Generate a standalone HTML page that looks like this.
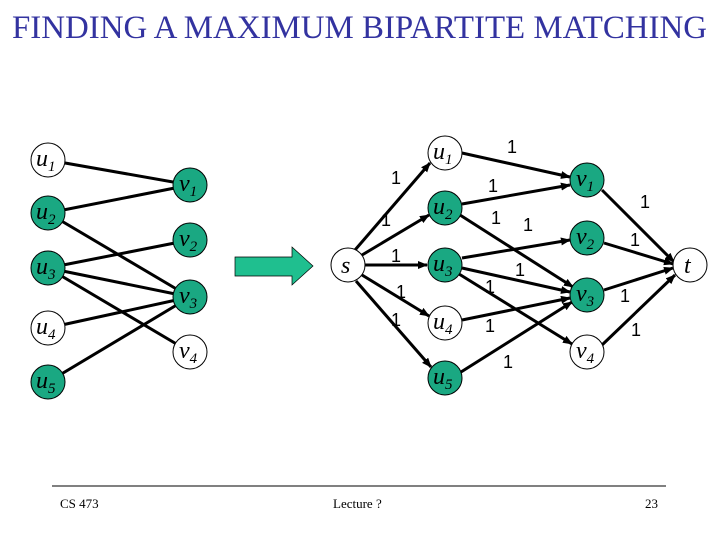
<!DOCTYPE html>
<html><head><meta charset="utf-8"><style>
html,body{margin:0;padding:0;background:#fff;}
svg{display:block;}
</style></head><body>
<svg width="720" height="540" viewBox="0 0 720 540" xmlns="http://www.w3.org/2000/svg" font-family="Liberation Serif, serif">
<defs>
<marker id="ah" markerWidth="10" markerHeight="8" refX="9" refY="4" orient="auto" markerUnits="userSpaceOnUse">
<path d="M0,0 L10,4 L0,8 z" fill="#000"/>
</marker>
</defs>
<text x="12" y="38" font-size="33" fill="#3333a0" textLength="695" lengthAdjust="spacingAndGlyphs">FINDING A MAXIMUM BIPARTITE MATCHING</text>

<!-- left graph edges -->
<g stroke="#000" stroke-width="3">
<line x1="48" y1="160" x2="190" y2="185"/>
<line x1="48" y1="213" x2="190" y2="185"/>
<line x1="48" y1="213" x2="190" y2="297"/>
<line x1="48" y1="268" x2="190" y2="240"/>
<line x1="48" y1="268" x2="190" y2="297"/>
<line x1="48" y1="268" x2="190" y2="352"/>
<line x1="48" y1="328" x2="190" y2="297"/>
<line x1="48" y1="382" x2="190" y2="297"/>
</g>
<g stroke="#000" stroke-width="1">
<circle cx="48" cy="160" r="17" fill="#fff"/>
<circle cx="48" cy="213" r="17" fill="#1aa882"/>
<circle cx="48" cy="268" r="17" fill="#1aa882"/>
<circle cx="48" cy="328" r="17" fill="#fff"/>
<circle cx="48" cy="382" r="17" fill="#1aa882"/>
<circle cx="190" cy="185" r="17" fill="#1aa882"/>
<circle cx="190" cy="240" r="17" fill="#1aa882"/>
<circle cx="190" cy="297" r="17" fill="#1aa882"/>
<circle cx="190" cy="352" r="17" fill="#fff"/>
</g>
<g font-style="italic" font-size="24" fill="#000">
<text x="36" y="166">u<tspan font-size="15" dy="5">1</tspan></text>
<text x="36" y="219">u<tspan font-size="15" dy="5">2</tspan></text>
<text x="36" y="274">u<tspan font-size="15" dy="5">3</tspan></text>
<text x="36" y="334">u<tspan font-size="15" dy="5">4</tspan></text>
<text x="36" y="388">u<tspan font-size="15" dy="5">5</tspan></text>
<text x="179" y="191">v<tspan font-size="15" dy="5">1</tspan></text>
<text x="179" y="246">v<tspan font-size="15" dy="5">2</tspan></text>
<text x="179" y="303">v<tspan font-size="15" dy="5">3</tspan></text>
<text x="179" y="358">v<tspan font-size="15" dy="5">4</tspan></text>
</g>

<!-- block arrow -->
<polygon points="235,257 292,257 292,247 313,266 292,285 292,276 235,276" fill="#1fbf8f" stroke="#000" stroke-width="0.7"/>

<!-- right graph edges -->
<g stroke="#000" stroke-width="3" marker-end="url(#ah)">
<line x1="355" y1="250" x2="430" y2="163"/>
<line x1="362" y1="255" x2="429" y2="215"/>
<line x1="365" y1="265" x2="427" y2="265"/>
<line x1="362" y1="275" x2="429" y2="316"/>
<line x1="356" y1="281" x2="431" y2="367"/>
<line x1="462" y1="153" x2="570" y2="177"/>
<line x1="462" y1="204" x2="570" y2="185"/>
<line x1="460" y1="215" x2="573" y2="287"/>
<line x1="462" y1="258" x2="570" y2="240"/>
<line x1="462" y1="268" x2="570" y2="292"/>
<line x1="459" y1="274" x2="572" y2="344"/>
<line x1="462" y1="320" x2="570" y2="298"/>
<line x1="461" y1="372" x2="572" y2="302"/>
<line x1="602" y1="190" x2="674" y2="262"/>
<line x1="604" y1="243" x2="673" y2="264"/>
<line x1="604" y1="290" x2="673" y2="268"/>
<line x1="602" y1="345" x2="675" y2="275"/>
</g>
<g stroke="#000" stroke-width="1">
<circle cx="348" cy="265" r="17" fill="#fff"/>
<circle cx="445" cy="153" r="17" fill="#fff"/>
<circle cx="445" cy="208" r="17" fill="#1aa882"/>
<circle cx="445" cy="265" r="17" fill="#1aa882"/>
<circle cx="445" cy="323" r="17" fill="#fff"/>
<circle cx="445" cy="378" r="17" fill="#1aa882"/>
<circle cx="587" cy="180" r="17" fill="#1aa882"/>
<circle cx="587" cy="238" r="17" fill="#1aa882"/>
<circle cx="587" cy="295" r="17" fill="#1aa882"/>
<circle cx="587" cy="352" r="17" fill="#fff"/>
<circle cx="690" cy="265" r="17" fill="#fff"/>
</g>
<g font-style="italic" font-size="24" fill="#000">
<text x="341" y="273">s</text>
<text x="684" y="273">t</text>
<text x="433" y="159">u<tspan font-size="15" dy="5">1</tspan></text>
<text x="433" y="214">u<tspan font-size="15" dy="5">2</tspan></text>
<text x="433" y="271">u<tspan font-size="15" dy="5">3</tspan></text>
<text x="433" y="329">u<tspan font-size="15" dy="5">4</tspan></text>
<text x="433" y="384">u<tspan font-size="15" dy="5">5</tspan></text>
<text x="576" y="186">v<tspan font-size="15" dy="5">1</tspan></text>
<text x="576" y="244">v<tspan font-size="15" dy="5">2</tspan></text>
<text x="576" y="301">v<tspan font-size="15" dy="5">3</tspan></text>
<text x="576" y="358">v<tspan font-size="15" dy="5">4</tspan></text>
</g>
<g font-size="18" fill="#000" font-family="Liberation Sans, sans-serif" text-anchor="middle">
<text x="512" y="153">1</text>
<text x="493" y="192">1</text>
<text x="496" y="224">1</text>
<text x="528" y="231">1</text>
<text x="520" y="276">1</text>
<text x="490" y="293">1</text>
<text x="490" y="332">1</text>
<text x="508" y="368">1</text>
<text x="396" y="184">1</text>
<text x="386" y="226">1</text>
<text x="396" y="262">1</text>
<text x="401" y="298">1</text>
<text x="396" y="326">1</text>
<text x="645" y="208">1</text>
<text x="635" y="246">1</text>
<text x="625" y="302">1</text>
<text x="636" y="336">1</text>
</g>

<line x1="52" y1="486" x2="666" y2="486" stroke="#000" stroke-width="1"/>
<g font-size="13" fill="#000">
<text x="60" y="508">CS 473</text>
<text x="333" y="508">Lecture ?</text>
<text x="645" y="508">23</text>
</g>
</svg>
</body></html>
